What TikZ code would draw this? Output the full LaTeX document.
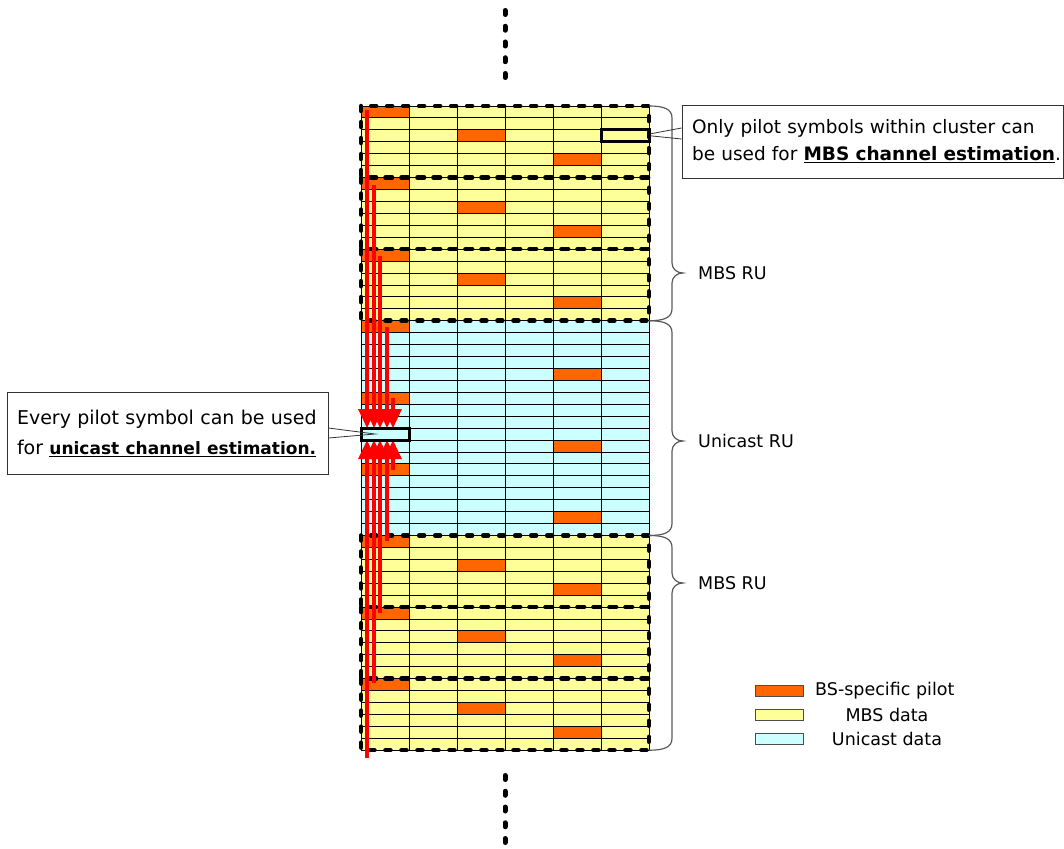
\documentclass[tikz,border=0pt]{standalone}
\usepackage{fontspec}
\setmainfont{DejaVu Sans}
\usetikzlibrary{arrows.meta,calc}
\definecolor{pilot}{HTML}{FF6600}
\definecolor{mbs}{HTML}{FFFF99}
\definecolor{uni}{HTML}{CCFFFF}
\begin{document}
\begin{tikzpicture}[x=1pt,y=-1pt,
  gridline/.style={draw=black,line width=0.9pt},
  clusterdash/.style={draw=black,line width=4.5pt,line cap=round,dash pattern=on 5pt off 11pt},
  vdots/.style={draw=black,line width=5pt,line cap=round,dash pattern=on 4pt off 11.75pt},
  redarrow/.style={draw=red,line width=3.2pt,-{Triangle[width=17pt,length=19pt]}},
  hlbox/.style={draw=black,line width=3pt,minimum width=48pt,minimum height=11.93pt,inner sep=0pt},
  callout/.style={draw=black!80,line width=0.9pt,fill=white,align=left,inner ysep=0pt,inner xsep=10pt},
  pointer/.style={draw=black!80,line width=0.8pt},
  brace/.style={draw=black!65,line width=1.2pt},
  lbl/.style={anchor=west,font=\fontsize{17.5}{20}\selectfont,inner sep=0pt},
  legbox/.style={draw=black!70,line width=0.8pt,minimum width=48pt,minimum height=11pt,inner sep=0pt},
  legtext/.style={font=\fontsize{17.5}{20}\selectfont,inner sep=0pt}
]
\useasboundingbox (0,0) rectangle (1064,848);
\def\rh{11.93}
% backgrounds
\fill[mbs] (361,106) rectangle (649,320.74);
\fill[uni] (361,320.74) rectangle (649,535.48);
\fill[mbs] (361,535.48) rectangle (649,750.22);
% pilots
\foreach \r/\c in {0/0,2/2,4/4,6/0,8/2,10/4,12/0,14/2,16/4,18/0,22/4,24/0,28/4,30/0,34/4,36/0,38/2,40/4,42/0,44/2,46/4,48/0,50/2,52/4}
  \fill[pilot] (361+\c*48,106+\r*\rh) rectangle ++(48,\rh);
% grid
\foreach \r in {0,...,54}
  \draw[gridline] (361,106+\r*\rh) -- (649,106+\r*\rh);
\foreach \c in {0,...,6}
  \draw[gridline] (361+\c*48,106) -- (361+\c*48,750.22);
% clusters
\foreach \k in {0,6,12,36,42,48}
  \draw[clusterdash] (361,106+\k*\rh) rectangle (649,106+\k*\rh+6*\rh);
% continuation dots
\draw[vdots] (505,10.5) -- (505,78);
\draw[vdots] (505,775.5) -- (505,845);
% highlighted symbols
\node[hlbox] (mbox) at (625,106+2.5*\rh) {};
\node[hlbox] (ubox) at (385,106+27.5*\rh) {};
% red arrows
\foreach \x/\y in {367/110,374/185,380/256,387/327,393/398}
  \draw[redarrow] (\x,\y) -- (\x,106+27*\rh);
\foreach \x/\y in {393/470,387/541,380/613,374/683,367/758}
  \draw[redarrow] (\x,\y) -- (\x,106+28*\rh);
\node[hlbox] at (ubox) {};
% braces
\foreach \ya/\yb/\yt in {106/320.74/273,320.74/535.48/441,535.48/750.22/583}
  \draw[brace] (649,\ya) .. controls (664,\ya) and (672,\ya+3) .. (672,\ya+12) -- (672,\yt-10)
    .. controls (672,\yt-4) and (677,\yt) .. (683,\yt)
    .. controls (677,\yt) and (672,\yt+4) .. (672,\yt+10) -- (672,\yb-12)
    .. controls (672,\yb-3) and (664,\yb) .. (649,\yb);
\node[lbl] (l1) at (698,273) {MBS RU};
\node[lbl] (l2) at (698,441) {Unicast RU};
\node[lbl] (l3) at (698,583) {MBS RU};
% callouts
\node[callout,minimum width=381pt,minimum height=73pt,text width=361pt,
      font=\fontsize{18.5}{27}\selectfont] (mcall) at (872.5,141.5)
  {\mbox{Only pilot symbols within cluster can}\\\mbox{be used for \underline{\textbf{MBS channel estimation}}.}};
\node[callout,minimum width=321pt,minimum height=82pt,text width=301pt,
      font=\fontsize{19}{30}\selectfont] (ucall) at (167.5,433)
  {\mbox{Every pilot symbol can be used}\\\mbox{for \underline{\fontsize{17}{30}\selectfont\textbf{unicast channel estimation.}}}};
\draw[pointer] ($(mcall.west)+(0,-13.5)$) -- ($(mbox.east)+(0,-2)$);
\draw[pointer] ($(mcall.west)+(0,-2.5)$) -- ($(mbox.east)+(0,0)$);
\coordinate (uptr) at (375,434);
\draw[pointer] ($(ucall.east)+(0,-5)$) -- (uptr) -- ($(ucall.east)+(0,5)$);
% legend
\node[legbox,fill=pilot] (lg1) at (779.5,691) {};
\node[legbox,fill=mbs] (lg2) at (779.5,714.5) {};
\node[legbox,fill=uni] (lg3) at (779.5,738.5) {};
\node[legtext,anchor=west] (lt1) at (815,691) {BS-specific pilot};
\node[legtext] (lt2) at (887,714.5) {MBS data};
\node[legtext] (lt3) at (887,738.5) {Unicast data};
\end{tikzpicture}
\end{document}
